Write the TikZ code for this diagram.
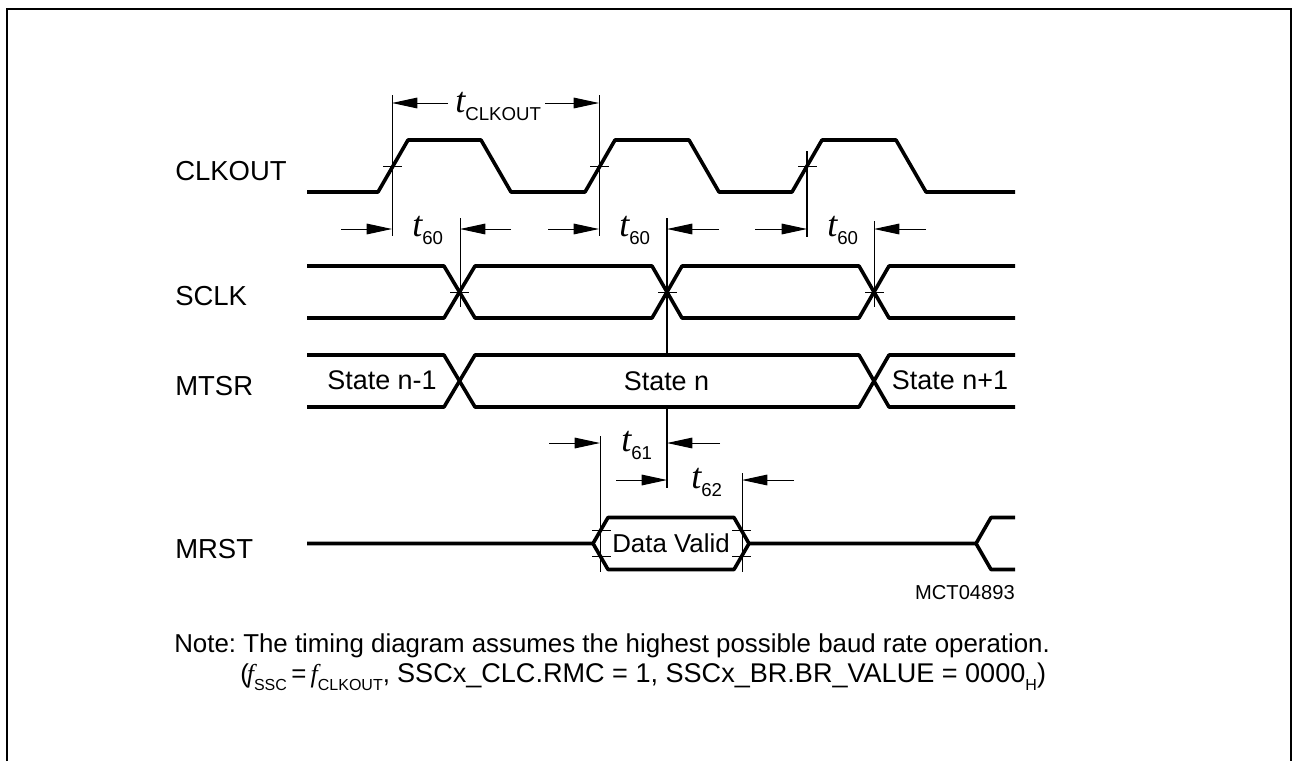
\documentclass[tikz,border=0pt]{standalone}
\usepackage{fontspec}
\setmainfont{Liberation Sans}
\newfontfamily\timefont{Liberation Serif}
\usetikzlibrary{
  arrows.meta,
  positioning,
  calc
}
\newcommand{\tsym}[1]{{\fontsize{27}{27}\selectfont\timefont\itshape t}\raisebox{-6.5pt}{\fontsize{14}{15}\selectfont #1}}
\newcommand{\fsym}[1]{{\timefont\itshape f}\raisebox{-6pt}{\fontsize{12}{13}\selectfont #1}}
\tikzset{
  signal/.style={line width=2.7pt,line join=round},
  guide/.style={line width=0.75pt},
  guidebold/.style={line width=1.2pt},
  tickmark/.style={line width=0.75pt},
  dimarrow/.style={line width=0.75pt,-{Triangle[length=19pt,width=8pt]}},
  sigtext/.style={anchor=base west,inner sep=0pt,font=\fontsize{20.6}{21}\selectfont},
  statetext/.style={anchor=base,inner sep=0pt,font=\fontsize{20.2}{21}\selectfont},
  timetext/.style={anchor=base west,inner sep=0pt},
  notetext/.style={anchor=base west,inner sep=0pt,font=\fontsize{19.4}{20}\selectfont\frenchspacing}
}
\begin{document}
\begin{tikzpicture}[x=0.75pt,y=-0.75pt]
  \useasboundingbox (0,0) rectangle (1298,761);
  \draw[line width=1.5pt] (7,761) -- (7,9) -- (1291,9) -- (1291,761);

  % signal names
  \node[sigtext] (clkout) at (175,180) {CLKOUT};
  \node[sigtext] (sclk) at (175,305) {SCLK};
  \node[sigtext] (mtsr) at (175,395) {MTSR};
  \node[sigtext] (mrst) at (175,558) {MRST};

  % waveforms
  \draw[signal] (307,192) -- (378,192) -- (408,140) -- (481,140) -- (511,192) -- (585,192) -- (615,140) -- (689,140)
    -- (719,192) -- (792,192) -- (822,140) -- (896,140) -- (926,192) -- (1015,192);
  \draw[signal] (307,266) -- (444,266) -- (475,318) -- (652,318) -- (682,266) -- (859,266) -- (889,318) -- (1015,318);
  \draw[signal] (307,318) -- (444,318) -- (475,266) -- (652,266) -- (682,318) -- (859,318) -- (889,266) -- (1015,266);
  \draw[signal] (307,355) -- (444,355) -- (475,407) -- (859,407) -- (889,355) -- (1015,355);
  \draw[signal] (307,407) -- (444,407) -- (475,355) -- (859,355) -- (889,407) -- (1015,407);
  \draw[signal] (307,543.5) -- (593,543.5) -- (608,517.5) -- (734,517.5) -- (749,543.5) -- (976,543.5) -- (991,517.5) -- (1015,517.5);
  \draw[signal] (593,543.5) -- (608,569.5) -- (734,569.5) -- (749,543.5);
  \draw[signal] (976,543.5) -- (991,569.5) -- (1015,569.5);

  % state texts
  \node[statetext] (staten1) at (382,389) {State n-1};
  \node[statetext] (staten) at (666.5,390) {State n};
  \node[statetext] (statenp) at (950,389) {State n+1};
  \node[statetext,font=\fontsize{19.4}{20}\selectfont] (valid) at (671,552) {Data Valid};

  % guide lines
  \coordinate (ga) at (392,95);
  \coordinate (gb) at (599,95);
  \coordinate (gc) at (807,151);
  \coordinate (gd) at (460,218);
  \coordinate (ge) at (667,218);
  \coordinate (gf) at (874,221);
  \coordinate (gg) at (600,436);
  \coordinate (gh) at (742,473);
  \draw[guide] (ga) -- (392,236);
  \draw[guide] (gb) -- (599,236);
  \draw[guidebold] (gc) -- (807,237);
  \draw[guide] (gd) -- (460,307);
  \draw[guidebold] (ge) -- (667,355);
  \draw[guidebold] (667,407) -- (667,488);
  \draw[guide] (gf) -- (874,307);
  \draw[guide] (gg) -- (600,572);
  \draw[guide] (gh) -- (742,572);

  % crossing marks
  \draw[tickmark] (383,166) -- (402,166);
  \draw[tickmark] (590,166) -- (609,166);
  \draw[tickmark] (798,166) -- (817,166);
  \draw[tickmark] (450,292) -- (469,292);
  \draw[tickmark] (658,292) -- (677,292);
  \draw[tickmark] (865,292) -- (884,292);
  \draw[tickmark] (592,530) -- (611,530);
  \draw[tickmark] (592,556) -- (611,556);
  \draw[tickmark] (732,530) -- (751,530);
  \draw[tickmark] (732,556) -- (751,556);

  % dimension arrows
  \draw[dimarrow] (448,103) -- (392,103);
  \draw[dimarrow] (545,103) -- (599,103);
  \draw[dimarrow] (341,229) -- (392,229);
  \draw[dimarrow] (511,229) -- (460,229);
  \draw[dimarrow] (548,229) -- (599,229);
  \draw[dimarrow] (719,229) -- (667,229);
  \draw[dimarrow] (755,229) -- (807,229);
  \draw[dimarrow] (926,229) -- (874,229);
  \draw[dimarrow] (549,443) -- (600,443);
  \draw[dimarrow] (720,443) -- (667,443);
  \draw[dimarrow] (616,480) -- (667,480);
  \draw[dimarrow] (794,480) -- (742,480);

  % timing labels
  \node[timetext] (tclk) at (455,112) {\tsym{CLKOUT}};
  \node[timetext] (tsa) at (412,236) {\tsym{60}};
  \node[timetext] (tsb) at (619,236) {\tsym{60}};
  \node[timetext] (tsc) at (827,236) {\tsym{60}};
  \node[timetext] (tsd) at (621,451) {\tsym{61}};
  \node[timetext] (tse) at (691,488) {\tsym{62}};

  % code and note
  \node[anchor=base east,inner sep=0pt,font=\fontsize{15.1}{16}\selectfont] (code) at (1015,599) {MCT04893};
  \node[notetext] (note) at (174,652) {Note: The timing diagram assumes the highest possible baud rate operation.};
  \node[notetext] (notetwo) at (240,682) {(\hspace{-1.5pt}\fsym{SSC}\,=\,\fsym{CLKOUT}, {\fontsize{20.3}{21}\selectfont SSCx\_CLC.RMC = 1, SSCx\_BR.BR\_VALUE = 0000}\raisebox{-6pt}{\fontsize{12}{13}\selectfont H}{\fontsize{20.3}{21}\selectfont )}};
\end{tikzpicture}
\end{document}
